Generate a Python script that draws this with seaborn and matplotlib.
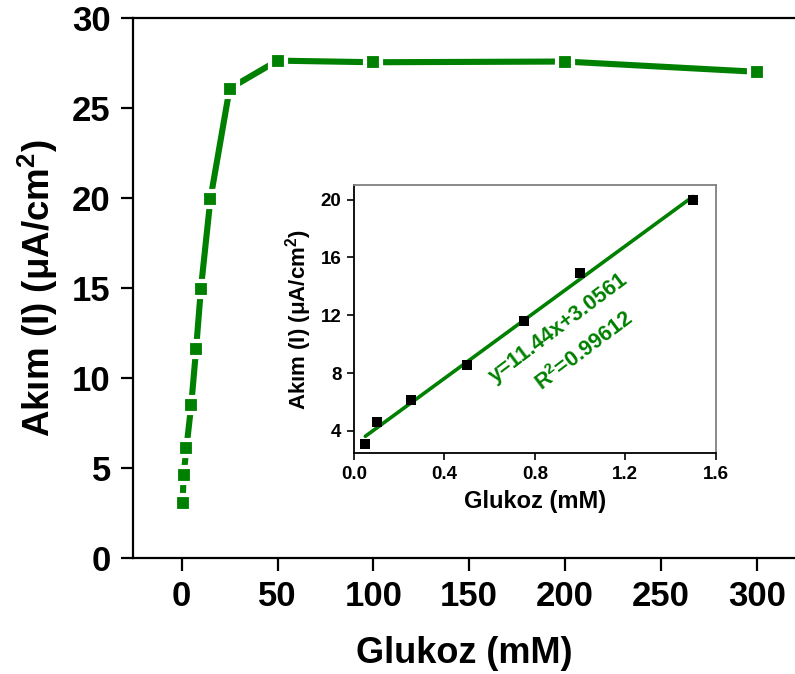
import numpy as np
import pandas as pd
import matplotlib
matplotlib.use("Agg")
import matplotlib.pyplot as plt
import seaborn as sns

# Current response vs glucose concentration (full range)
main_conc = [0.5, 1, 2.5, 5, 7.5, 10, 15, 25, 50, 100, 200, 300]
main_current = [3.08, 4.62, 6.15, 8.54, 11.6, 14.95, 19.97, 26.1, 27.65, 27.56, 27.6, 27.03]

# Linear range (inset)
lin_conc = [0.05, 0.1, 0.25, 0.5, 0.75, 1.0, 1.5]
lin_current = [3.08, 4.62, 6.15, 8.54, 11.6, 14.95, 19.97]
fit_slope = 11.44
fit_intercept = 3.0561
fit_r2 = 0.99612

main_xticks = [0, 50, 100, 150, 200, 250, 300]
main_yticks = [0, 5, 10, 15, 20, 25, 30]
inset_xticks = [0.0, 0.4, 0.8, 1.2, 1.6]
inset_yticks = [4, 8, 12, 16, 20]

sns.set_style("ticks")
plt.rcParams["font.family"] = ["Liberation Sans", "DejaVu Sans"]
plt.rcParams["font.weight"] = "bold"
plt.rcParams["axes.labelweight"] = "bold"
plt.rcParams["mathtext.fontset"] = "custom"
plt.rcParams["mathtext.rm"] = "Liberation Sans:bold"
plt.rcParams["mathtext.bf"] = "Liberation Sans:bold"
plt.rcParams["mathtext.it"] = "Liberation Sans:bold:italic"
plt.rcParams["mathtext.default"] = "rm"
for key in ["text.color", "axes.labelcolor", "xtick.color", "ytick.color",
            "xtick.labelcolor", "ytick.labelcolor", "axes.edgecolor"]:
    plt.rcParams[key] = "black"

GREEN = "#008000"
YLABEL = r"Akım (I) (μA/cm$^{2}$)"

fig = plt.figure(figsize=(7.95, 6.74), dpi=100)

# ---- main axes ----
ax = fig.add_axes([0.1673, 0.1717, 0.8327, 0.8011])
df_main = pd.DataFrame({"conc": main_conc, "current": main_current})
sns.lineplot(data=df_main, x="conc", y="current", ax=ax, color=GREEN,
             linewidth=4.4, marker="s", markersize=11.8,
             markerfacecolor=GREEN, markeredgecolor="white",
             markeredgewidth=3.0, sort=False)
ax.set_xlim(-25.4, 320)
ax.set_ylim(0, 30)
ax.set_xticks(main_xticks)
ax.set_yticks(main_yticks)
ax.set_xticklabels([str(t) for t in main_xticks])
ax.set_yticklabels([str(t) for t in main_yticks])
ax.tick_params(axis="both", direction="out", length=9, width=1.6,
               labelsize=25, pad=7, color="black", labelcolor="black")
for lbl in ax.get_xticklabels() + ax.get_yticklabels():
    lbl.set_fontweight("bold")
ax.set_xlabel("Glukoz (mM)", fontsize=26, fontweight="bold", labelpad=16,
              color="black")
ax.set_ylabel(YLABEL, fontsize=26.5, fontweight="bold",
              labelpad=9, color="black")
for side in ["left", "bottom", "top"]:
    ax.spines[side].set_visible(True)
    ax.spines[side].set_linewidth(1.6)
    ax.spines[side].set_color("black")
ax.spines["right"].set_visible(False)

# ---- inset: linear range ----
ins = fig.add_axes([0.4453, 0.3274, 0.455, 0.398])
df_lin = pd.DataFrame({"conc": lin_conc, "current": lin_current})
sns.scatterplot(data=df_lin, x="conc", y="current", ax=ins, marker="s",
                s=45, color="black", edgecolor="black", linewidth=0, zorder=3)
fit_x = np.array([lin_conc[0], lin_conc[-1]])
fit_y = fit_slope * fit_x + fit_intercept
sns.lineplot(x=fit_x, y=fit_y, ax=ins, color=GREEN, linewidth=2.6, zorder=2)
ins.set_xlim(0, 1.6)
ins.set_ylim(2.45, 21.0)
ins.set_xticks(inset_xticks)
ins.set_yticks(inset_yticks)
ins.set_xticklabels([f"{t:.1f}" for t in inset_xticks])
ins.set_yticklabels([str(t) for t in inset_yticks])
ins.tick_params(axis="both", direction="out", length=5, width=1.2,
                labelsize=13.5, pad=4, color="black", labelcolor="black")
for lbl in ins.get_xticklabels() + ins.get_yticklabels():
    lbl.set_fontweight("bold")
ins.set_xlabel("Glukoz (mM)", fontsize=17, fontweight="bold", labelpad=5,
               color="black")
ins.set_ylabel(YLABEL, fontsize=16, fontweight="bold",
               labelpad=5, color="black")
for side in ["left", "bottom"]:
    ins.spines[side].set_linewidth(1.3)
    ins.spines[side].set_color("black")
for side in ["top", "right"]:
    ins.spines[side].set_visible(True)
    ins.spines[side].set_linewidth(1.3)
    ins.spines[side].set_color("#808080")

ins.text(0.903, 11.11, f"y={fit_slope}x+{fit_intercept}", color=GREEN,
         fontsize=15.5, fontweight="bold", rotation=37, rotation_mode="anchor",
         ha="center", va="center")
ins.text(1.018, 9.52, f"R$^{{2}}$={fit_r2}", color=GREEN,
         fontsize=15.5, fontweight="bold", rotation=37, rotation_mode="anchor",
         ha="center", va="center")

fig.savefig("out.png", dpi=100)
